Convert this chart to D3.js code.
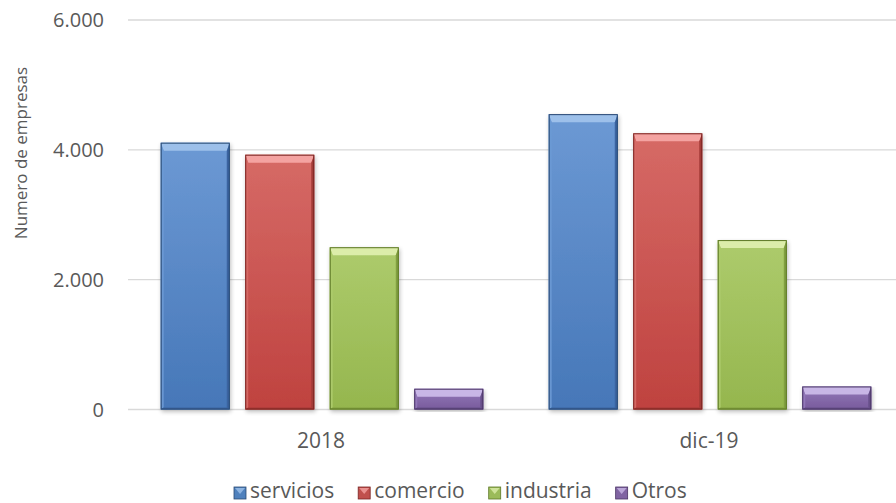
<!DOCTYPE html>
<html>
<head>
<meta charset="utf-8">
<script src="https://d3js.org/d3.v7.min.js"></script>
<style>
  body { margin: 0; background: #ffffff; }
  text { font-family: "Open Sans", sans-serif; fill: #595959; }
</style>
</head>
<body>
<div id="graph"></div>
<script>
var categories = ["2018", "dic-19"];
var seriesNames = ["servicios", "comercio", "industria", "Otros"];
var servicios = [4110, 4550];
var comercio = [3925, 4255];
var industria = [2500, 2610];
var otros = [320, 355];
var yTicks = [0, 2000, 4000, 6000];
var yTitle = "Numero de empresas";

var seriesValues = [servicios, comercio, industria, otros];
var colors = [
    { base: "#4f81bd", light: "#9dc0ea", top: "#6c99d4", bottom: "#4677b8", edge: "#2b4b74", dark: "#3a64a0" },
    { base: "#c0504d", light: "#f4a3a1", top: "#d66a66", bottom: "#bf423f", edge: "#7a2523", dark: "#a33a37" },
    { base: "#9bbb59", light: "#dcedaa", top: "#adcb6c", bottom: "#95b64e", edge: "#5d7826", dark: "#819f40" },
    { base: "#8064a2", light: "#c8b6e6", top: "#9479ba", bottom: "#785b9c", edge: "#4a3565", dark: "#67508a" }
];

var W = 896, H = 503;
var margin = { left: 128, right: -8, top: 20, bottom: 93.5 };

var svg = d3.select("#graph")
            .append("svg")
            .attr("width", W)
            .attr("height", H);

var defs = svg.append("defs");
colors.forEach(function(c, i) {
    var g = defs.append("linearGradient")
                .attr("id", "grad" + i)
                .attr("x1", 0).attr("y1", 0).attr("x2", 0).attr("y2", 1);
    g.append("stop").attr("offset", "0%").attr("stop-color", c.top);
    g.append("stop").attr("offset", "100%").attr("stop-color", c.bottom);
});
var shadow = defs.append("filter").attr("id", "shadow")
                 .attr("x", "-20%").attr("y", "-5%").attr("width", "140%").attr("height", "115%");
shadow.append("feGaussianBlur").attr("in", "SourceAlpha").attr("stdDeviation", 2);
shadow.append("feOffset").attr("dx", 1).attr("dy", 2).attr("result", "b");
shadow.append("feComponentTransfer").append("feFuncA").attr("type", "linear").attr("slope", 0.25);
var merge = shadow.append("feMerge");
merge.append("feMergeNode");
merge.append("feMergeNode").attr("in", "SourceGraphic");

var x0 = d3.scaleBand()
            .domain(categories)
            .range([margin.left, W - margin.right]);
var x1 = d3.scaleBand()
            .domain(seriesNames)
            .range([0, x0.bandwidth()])
            .paddingInner(0.183)
            .paddingOuter(0.387);
var y = d3.scaleLinear()
            .domain([0, 6000])
            .range([H - margin.bottom, margin.top]);

// gridlines + y labels
svg.append("g")
    .selectAll("line")
    .data(yTicks)
    .enter()
        .append("line")
        .attr("x1", margin.left)
        .attr("x2", W)
        .attr("y1", function(d) { return y(d); })
        .attr("y2", function(d) { return y(d); })
        .attr("stroke", "#d9d9d9")
        .attr("stroke-width", 1.3);

svg.append("g")
    .selectAll("text")
    .data(yTicks)
    .enter()
        .append("text")
        .attr("x", 104)
        .attr("y", function(d) { return y(d); })
        .attr("dy", "0.36em")
        .attr("text-anchor", "end")
        .style("font-size", "20px")
        .text(function(d) { return d3.format(",")(d).replace(/,/g, "."); });

svg.append("text")
    .attr("transform", "translate(27,153) rotate(-90)")
    .attr("text-anchor", "middle")
    .style("font-size", "17px")
    .text(yTitle);

// x labels
svg.append("g")
    .selectAll("text")
    .data(categories)
    .enter()
        .append("text")
        .attr("x", function(d) { return x0(d) + x0.bandwidth() / 2 - 1; })
        .attr("y", 448)
        .attr("text-anchor", "middle")
        .style("font-size", "21px")
        .text(function(d) { return d; });

// bars
var bars = [];
categories.forEach(function(cat, ci) {
    seriesNames.forEach(function(s, si) {
        bars.push({ cat: cat, s: si, name: s, v: seriesValues[si][ci] });
    });
});

var barG = svg.append("g")
    .selectAll("g")
    .data(bars)
    .enter()
        .append("g")
        .attr("filter", "url(#shadow)");

function bevel(d, side) {
    var xl = x0(d.cat) + x1(d.name), xr = xl + x1.bandwidth();
    var yt = y(d.v), yb = y(0);
    var bt = Math.min(8, (yb - yt) / 2), bs = 3, bb = 2;
    if (side == "top") return [[xl, yt], [xr, yt], [xr - bs, yt + bt], [xl + bs, yt + bt]];
    if (side == "left") return [[xl, yt], [xl + bs, yt + bt], [xl + bs, yb - bb], [xl, yb]];
    if (side == "right") return [[xr, yt], [xr - bs, yt + bt], [xr - bs, yb - bb], [xr, yb]];
    return [[xl, yb], [xl + bs, yb - bb], [xr - bs, yb - bb], [xr, yb]];
}

barG.append("rect")
    .attr("x", function(d) { return x0(d.cat) + x1(d.name); })
    .attr("y", function(d) { return y(d.v); })
    .attr("width", x1.bandwidth())
    .attr("height", function(d) { return y(0) - y(d.v); })
    .attr("fill", function(d) { return "url(#grad" + d.s + ")"; });

[["top", "light", 1], ["left", "top", 0.9], ["right", "dark", 1], ["bottom", "dark", 1]].forEach(function(b) {
    barG.append("polygon")
        .attr("points", function(d) { return bevel(d, b[0]).join(" "); })
        .attr("fill", function(d) { return colors[d.s][b[1]]; })
        .attr("opacity", b[2]);
});

barG.append("rect")
    .attr("x", function(d) { return x0(d.cat) + x1(d.name) + 0.5; })
    .attr("y", function(d) { return y(d.v) + 0.5; })
    .attr("width", x1.bandwidth() - 1)
    .attr("height", function(d) { return y(0) - y(d.v) - 1; })
    .attr("fill", "none")
    .attr("stroke", function(d) { return colors[d.s].edge; })
    .attr("stroke-width", 1);

// legend
var legend = svg.append("g");
var lx = 234;
seriesNames.forEach(function(s, i) {
    var c = colors[i];
    legend.append("rect")
        .attr("x", lx).attr("y", 487)
        .attr("width", 12).attr("height", 12)
        .attr("fill", c.base)
        .attr("stroke", c.edge)
        .attr("stroke-width", 0.8);
    legend.append("polygon")
        .attr("points", [[lx + 1, 488], [lx + 11, 488], [lx + 6, 494]].join(" "))
        .attr("fill", c.light)
        .attr("opacity", 0.8);
    var t = legend.append("text")
        .attr("x", lx + 16)
        .attr("y", 498)
        .style("font-size", "21px")
        .text(s);
    lx += 16 + t.node().getComputedTextLength() + 24;
});
</script>
</body>
</html>
